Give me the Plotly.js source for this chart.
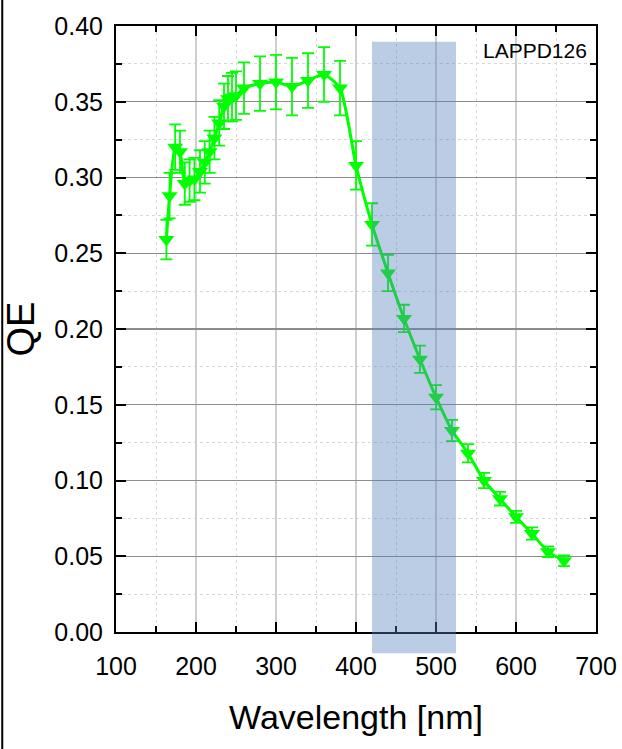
<!DOCTYPE html>
<html>
<head>
<meta charset="utf-8">
<script src="https://cdn.plot.ly/plotly-3.0.1.min.js"></script>
<style>html,body{margin:0;padding:0;background:#fff;}#chart{width:622px;height:749px;}</style>
</head>
<body>
<div id="chart"></div>
<script>
// Wavelength [nm]
const wavelength = [163, 167, 174, 180, 186, 192, 198, 205, 211, 217, 223, 229, 235, 240, 245, 250, 260, 280, 300, 320, 340, 360, 380, 400, 420, 440, 460, 480, 500, 520, 540, 560, 580, 600, 620, 640, 660];
// Quantum efficiency
const qe = [0.259, 0.288, 0.320, 0.317, 0.296, 0.298, 0.299, 0.304, 0.310, 0.317, 0.326, 0.336, 0.347, 0.352, 0.353, 0.354, 0.359, 0.362, 0.363, 0.360, 0.364, 0.368, 0.359, 0.308, 0.269, 0.237, 0.207, 0.180, 0.155, 0.133, 0.118, 0.100, 0.088, 0.076, 0.065, 0.053, 0.047];
// Error (±)
const qeErr = [0.013, 0.015, 0.015, 0.014, 0.014, 0.014, 0.014, 0.014, 0.014, 0.014, 0.014, 0.015, 0.015, 0.015, 0.016, 0.016, 0.017, 0.018, 0.018, 0.019, 0.018, 0.018, 0.018, 0.016, 0.014, 0.012, 0.009, 0.009, 0.008, 0.007, 0.006, 0.005, 0.0045, 0.004, 0.004, 0.0035, 0.0035];
// Highlighted band [nm]
const band = [420, 525];
const xTicks = [100, 200, 300, 400, 500, 600, 700];
const yTicks = [0.00, 0.05, 0.10, 0.15, 0.20, 0.25, 0.30, 0.35, 0.40];
const label = 'LAPPD126';

const FONT = '"Liberation Sans", Arial, sans-serif';
const green = '#00ff00';

const trace = {
  x: wavelength, y: qe, type: 'scatter', mode: 'lines+markers',
  line: {color: green, width: 3, shape: 'spline', smoothing: 0.6},
  marker: {symbol: 'triangle-down', size: 14, color: green},
  error_y: {type: 'data', array: qeErr, visible: true, color: green, thickness: 1.8, width: 6},
  showlegend: false, hoverinfo: 'skip'
};

const axisCommon = {
  showline: true, linecolor: '#000', linewidth: 2, mirror: 'allticks',
  ticks: 'inside', ticklen: 10, tickwidth: 2, tickcolor: '#000',
  tickfont: {family: FONT, size: 25, color: '#000'},
  zeroline: false, showgrid: true,
  minor: {ticks: 'inside', ticklen: 6, tickwidth: 2, tickcolor: '#000', showgrid: true, gridcolor: '#d8d8d8', griddash: 'dot', gridwidth: 1}
};

const layout = {
  width: 622, height: 749,
  margin: {l: 116, r: 26, t: 26, b: 117},
  paper_bgcolor: '#fff', plot_bgcolor: '#fff',
  xaxis: Object.assign({}, axisCommon, {
    range: [100, 700], tickvals: xTicks, ticktext: xTicks.map(String),
    gridcolor: '#cfcfcf', gridwidth: 1.5,
    minor: Object.assign({}, axisCommon.minor, {dtick: 50, tick0: 0}),
    ticklabelstandoff: 11,
    title: {text: 'Wavelength [nm]', font: {family: FONT, size: 34, color: '#000'}, standoff: 26}
  }),
  yaxis: Object.assign({}, axisCommon, {
    range: [0, 0.40], tickvals: yTicks, ticktext: yTicks.map(v => v.toFixed(2)),
    gridcolor: '#8c8c8c', gridwidth: 1.2,
    minor: Object.assign({}, axisCommon.minor, {dtick: 0.025, tick0: 0}),
    ticklabelstandoff: 6,
    title: {text: 'QE', font: {family: FONT, size: 38, color: '#000'}, standoff: 10}
  }),
  shapes: [
    {type: 'rect', xref: 'x', yref: 'paper', x0: band[0], x1: band[1], y0: -0.035, y1: 0.974,
     fillcolor: 'rgba(85,130,187,0.4)', line: {width: 0}, layer: 'above'},
    {type: 'line', xref: 'paper', yref: 'paper', x0: -0.237, x1: -0.237, y0: -0.2, y1: 1.06,
     line: {color: '#000', width: 2}}
  ],
  annotations: [
    {text: label, xref: 'paper', yref: 'paper', x: 0.985, y: 0.96, xanchor: 'right', yanchor: 'middle',
     showarrow: false, font: {family: FONT, size: 21, color: '#000'}}
  ]
};

Plotly.newPlot('chart', [trace], layout, {displayModeBar: false, staticPlot: true});
</script>
</body>
</html>
